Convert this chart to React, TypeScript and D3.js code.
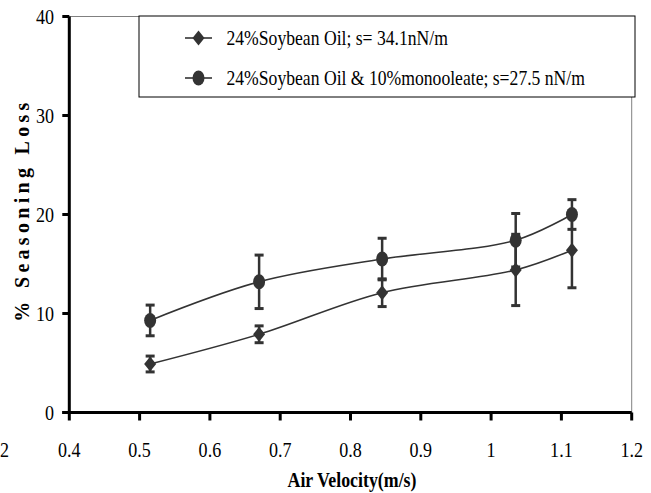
import React from "react";
import * as d3 from "d3";

// air velocity (m/s)
const velocity = [0.515, 0.67, 0.845, 1.035, 1.115];
// % seasoning loss, 24% soybean oil
const soybean = [4.9, 7.9, 12.1, 14.4, 16.4];
const soybeanErr = [0.8, 0.85, 1.4, 3.6, 3.8];
// % seasoning loss, 24% soybean oil & 10% monooleate
const mono = [9.3, 13.2, 15.5, 17.4, 20.0];
const monoErr = [1.55, 2.7, 2.1, 2.7, 1.5];

const xTicks = [0.4, 0.5, 0.6, 0.7, 0.8, 0.9, 1.0, 1.1, 1.2];
const yTicks = [0, 10, 20, 30, 40];
const legendLabels = [
  "24%Soybean Oil; s= 34.1nN/m",
  "24%Soybean Oil & 10%monooleate; s=27.5 nN/m",
];

const W = 651;
const H = 493;
const ink = "#333333";
const font = '"Liberation Serif", "Times New Roman", serif';

const x = d3.scaleLinear().domain([0.4, 1.2]).range([69.3, 631.7]);
const y = d3.scaleLinear().domain([0, 40]).range([412.5, 16.5]);

const line = d3
  .line<number>()
  .x((d, i) => x(velocity[i]))
  .y(d => y(d))
  .curve(d3.curveCatmullRom.alpha(0.5));

function Diamond({ cx, cy }: { cx: number; cy: number }) {
  return (
    <path
      d={`M${cx},${cy - 7.5}L${cx + 6},${cy}L${cx},${cy + 7.5}L${cx - 6},${cy}Z`}
      fill={ink}
    />
  );
}

function Dot({ cx, cy }: { cx: number; cy: number }) {
  return <ellipse cx={cx} cy={cy} rx={6} ry={7.5} fill={ink} />;
}

function ErrorBars({ vals, errs }: { vals: number[]; errs: number[] }) {
  return (
    <g stroke={ink}>
      {vals.map((v, i) => {
        const cx = x(velocity[i]);
        const top = y(v + errs[i]);
        const bot = y(v - errs[i]);
        return (
          <g key={i}>
            <line x1={cx} x2={cx} y1={top} y2={bot} strokeWidth={2.5} />
            <line x1={cx - 4.5} x2={cx + 4.5} y1={top} y2={top} strokeWidth={3} />
            <line x1={cx - 4.5} x2={cx + 4.5} y1={bot} y2={bot} strokeWidth={3} />
          </g>
        );
      })}
    </g>
  );
}

// narrow serif text, like the original's condensed Times
function Label(props: {
  x: number;
  y: number;
  anchor?: string;
  size?: number;
  sx?: number;
  children: React.ReactNode;
}) {
  const { anchor = "middle", size = 21, sx = 0.86 } = props;
  return (
    <text
      transform={`translate(${props.x},${props.y}) scale(${sx},1)`}
      textAnchor={anchor}
      style={{ fontFamily: font }}
      fontSize={size}
      fill="#000"
    >
      {props.children}
    </text>
  );
}

export default function App() {
  const x0 = x.range()[0];
  const x1 = x.range()[1];
  const yBase = y(0);
  const yTop = y(40);

  return (
    <svg
      width={W}
      height={H}
      style={{ position: "absolute", left: 0, top: 0, background: "#fff" }}
    >
      {/* plot area border */}
      <rect
        x={x0}
        y={yTop}
        width={x1 - x0}
        height={yBase - yTop}
        fill="none"
        stroke="#808080"
        strokeWidth={1}
      />

      {/* series lines */}
      <path d={line(soybean) || ""} fill="none" stroke={ink} strokeWidth={1.6} />
      <path d={line(mono) || ""} fill="none" stroke={ink} strokeWidth={1.6} />

      <ErrorBars vals={soybean} errs={soybeanErr} />
      <ErrorBars vals={mono} errs={monoErr} />

      {soybean.map((v, i) => (
        <Diamond key={"d" + i} cx={x(velocity[i])} cy={y(v)} />
      ))}
      {mono.map((v, i) => (
        <Dot key={"c" + i} cx={x(velocity[i])} cy={y(v)} />
      ))}

      {/* axes */}
      <line x1={x0} x2={x0} y1={yTop} y2={yBase} stroke="#000" strokeWidth={3} />
      <line x1={x0 - 7} x2={x1} y1={yBase} y2={yBase} stroke="#000" strokeWidth={3} />
      {yTicks.map(t => (
        <g key={"yt" + t}>
          <line x1={x0 - 7} x2={x0} y1={y(t)} y2={y(t)} stroke="#000" strokeWidth={3} />
          <Label x={54} y={y(t) + 7.5} anchor="end">
            {t}
          </Label>
        </g>
      ))}
      {xTicks.map(t => (
        <g key={"xt" + t}>
          <line x1={x(t)} x2={x(t)} y1={yBase} y2={yBase + 8} stroke="#000" strokeWidth={3} />
          <Label x={x(t)} y={457}>
            {d3.format("~g")(t)}
          </Label>
        </g>
      ))}

      {/* stray label from the page */}
      <Label x={9} y={457} anchor="end">
        2
      </Label>

      {/* axis titles */}
      <text
        transform="translate(352,487) scale(0.85,1)"
        textAnchor="middle"
        style={{ fontFamily: font }}
        fontWeight="bold"
        fontSize={21}
      >
        Air Velocity(m/s)
      </text>
      <text
        transform="translate(29,210) rotate(-90)"
        textAnchor="middle"
        style={{ fontFamily: font }}
        fontWeight="bold"
        fontSize={20}
        letterSpacing={4.3}
      >
        % Seasoning Loss
      </text>

      {/* legend */}
      <rect x={139} y={16} width={496} height={81} fill="#fff" stroke="#000" strokeWidth={1} />
      {legendLabels.map((lab, i) => {
        const ly = i === 0 ? 38 : 78;
        return (
          <g key={lab}>
            <line x1={185} x2={212} y1={ly} y2={ly} stroke={ink} strokeWidth={1.6} />
            {i === 0 ? <Diamond cx={198.5} cy={ly} /> : <Dot cx={198.5} cy={ly} />}
            <Label x={226.5} y={ly + 7} anchor="start" sx={0.84}>
              {lab}
            </Label>
          </g>
        );
      })}
    </svg>
  );
}
